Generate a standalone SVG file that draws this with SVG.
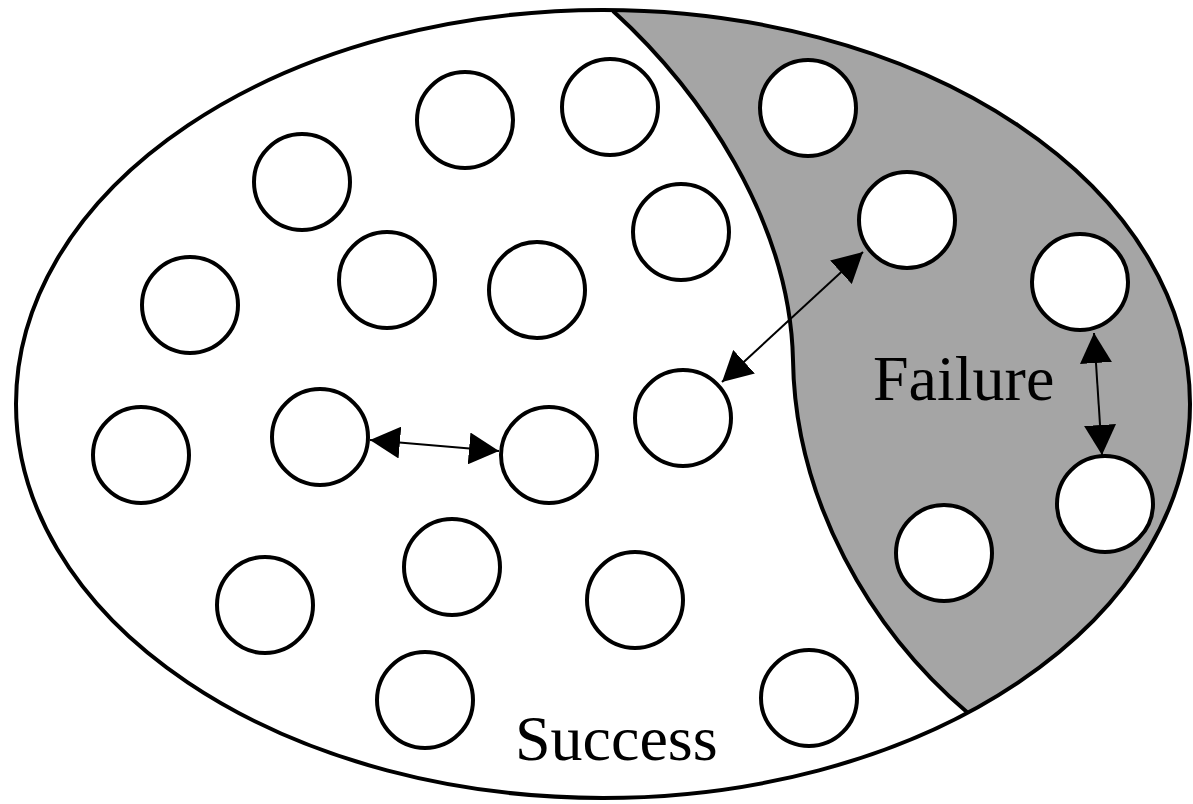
<svg xmlns="http://www.w3.org/2000/svg" width="1193" height="804" viewBox="0 0 1193 804">
<style>
.node{fill:#fff;stroke:#000;stroke-width:4}
.conn{stroke:#000;stroke-width:2;fill:none;marker-start:url(#ah);marker-end:url(#ah)}
.lbl{font-family:"Liberation Serif","Times New Roman",serif;font-size:64px;fill:#000}
</style>
<defs>
<marker id="ah" viewBox="0 0 30 32" refX="30" refY="16" markerWidth="30" markerHeight="32" markerUnits="userSpaceOnUse" orient="auto-start-reverse">
<path d="M0,0 L30,16 L0,32 Z" fill="#000"/>
</marker>
</defs>
<rect width="1193" height="804" fill="#fff"/>
<g id="region-failure">
<path d="M613,11 C700,90 790,220 793,360 C795,500 870,630 968,713 A587,394 0 0 0 613,11 Z" fill="#a5a5a5"/>
</g>
<g id="outline">
<ellipse cx="603" cy="404" rx="587" ry="394" fill="none" stroke="#000" stroke-width="4"/>
<path d="M613,11 C700,90 790,220 793,360 C795,500 870,630 968,713" fill="none" stroke="#000" stroke-width="4"/>
</g>
<g id="n1"><circle class="node" cx="465" cy="120" r="48"/></g>
<g id="n2"><circle class="node" cx="610" cy="107" r="48"/></g>
<g id="n3"><circle class="node" cx="808" cy="108" r="48"/></g>
<g id="n4"><circle class="node" cx="302" cy="182" r="48"/></g>
<g id="n5"><circle class="node" cx="681" cy="232" r="48"/></g>
<g id="n6"><circle class="node" cx="907" cy="220" r="48"/></g>
<g id="n7"><circle class="node" cx="190" cy="305" r="48"/></g>
<g id="n8"><circle class="node" cx="387" cy="280" r="48"/></g>
<g id="n9"><circle class="node" cx="537" cy="290" r="48"/></g>
<g id="n10"><circle class="node" cx="1080" cy="282" r="48"/></g>
<g id="n11"><circle class="node" cx="141" cy="455" r="48"/></g>
<g id="n12"><circle class="node" cx="320" cy="437" r="48"/></g>
<g id="n13"><circle class="node" cx="549" cy="455" r="48"/></g>
<g id="n14"><circle class="node" cx="683" cy="418" r="48"/></g>
<g id="n15"><circle class="node" cx="1105" cy="504" r="48"/></g>
<g id="n16"><circle class="node" cx="944" cy="553" r="48"/></g>
<g id="n17"><circle class="node" cx="265" cy="605" r="48"/></g>
<g id="n18"><circle class="node" cx="452" cy="567" r="48"/></g>
<g id="n19"><circle class="node" cx="635" cy="600" r="48"/></g>
<g id="n20"><circle class="node" cx="425" cy="700" r="48"/></g>
<g id="n21"><circle class="node" cx="809" cy="698" r="48"/></g>
<g id="connectors">
<line class="conn" x1="370" y1="440" x2="499" y2="451"/>
<line class="conn" x1="863" y1="252" x2="722" y2="382"/>
<line class="conn" x1="1094" y1="333" x2="1102" y2="455"/>
</g>
<g id="labels">
<text class="lbl" x="873" y="400">Failure</text>
<text class="lbl" x="515" y="760">Success</text>
</g>
</svg>
